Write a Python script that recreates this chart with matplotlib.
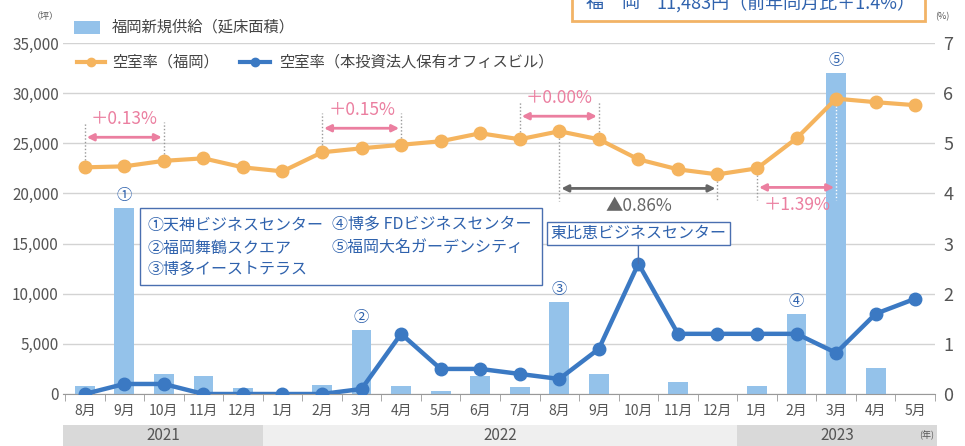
import numpy as np
import matplotlib.pyplot as plt
from matplotlib.patches import Rectangle
from matplotlib.lines import Line2D
from matplotlib.ticker import FuncFormatter
import matplotlib.transforms as mtransforms

plt.rcParams['font.family'] = ['Noto Sans CJK JP', 'DejaVu Sans']

# data
months = ['8月', '9月', '10月', '11月', '12月', '1月', '2月', '3月', '4月', '5月', '6月',
          '7月', '8月', '9月', '10月', '11月', '12月', '1月', '2月', '3月', '4月', '5月']
supply = [800, 18500, 2000, 1800, 600, 0, 900, 6400, 800, 300, 1800,
          700, 9200, 2000, 0, 1200, 0, 800, 8000, 32000, 2600, 0]
vac_fukuoka = [4.52, 4.54, 4.65, 4.70, 4.52, 4.44, 4.82, 4.90, 4.97, 5.04, 5.20,
               5.08, 5.24, 5.08, 4.68, 4.48, 4.38, 4.50, 5.10, 5.89, 5.82, 5.76]
vac_reit = [0.0, 0.2, 0.2, 0.0, 0.0, 0.0, 0.0, 0.1, 1.2, 0.5, 0.5,
            0.4, 0.3, 0.9, 2.6, 1.2, 1.2, 1.2, 1.2, 0.82, 1.6, 1.9]
years = ['2021', '2022', '2023']
year_counts = [5, 12, 5]
bar_tags = {1: '①', 7: '②', 12: '③', 18: '④', 19: '⑤'}
# (start, end, label, kind)
changes = [(0, 2, '＋0.13%', 'up'), (6, 8, '＋0.15%', 'up'), (11, 13, '＋0.00%', 'up'),
           (12, 16, '▲0.86%', 'down'), (17, 19, '＋1.39%', 'down')]
change_levels = [5.12, 5.30, 5.54, 4.10, 4.12]
buildings = ['①天神ビジネスセンター', '②福岡舞鶴スクエア', '③博多イーストテラス',
             '④博多 FDビジネスセンター', '⑤福岡大名ガーデンシティ']

BAR = '#94c2ea'
ORANGE = '#f5b45e'
BLUE = '#3b79c3'
PINK = '#eb7fa0'
TXT = '#555555'
LBLUE = '#2f62ad'

W, H = 965, 446
fx = lambda p: p / W
fy = lambda p: 1 - p / H

fig = plt.figure(figsize=(9.65, 4.46), dpi=100)
ax = fig.add_axes([fx(63), fy(394), (935 - 63) / W, (394 - 43) / H])
x = np.arange(len(months))

ax.bar(x, supply, width=0.5, color=BAR, zorder=2)
ax.set_xlim(-0.55, 21.45)
ax.set_ylim(0, 35000)
ax.set_yticks(np.arange(0, 35001, 5000))
ax.yaxis.set_major_formatter(FuncFormatter(lambda v, p: f'{int(v):,}'))
ax.grid(axis='y', color='#d3d3d3', lw=1, zorder=0)
ax.set_axisbelow(True)
for s in ['top', 'left', 'right']:
    ax.spines[s].set_visible(False)
ax.spines['bottom'].set_color('#999999')
ax.set_xticks(x)
ax.set_xticklabels(months)
ax.set_xticks(np.arange(-0.5, 22, 1), minor=True)
ax.tick_params(axis='x', which='major', length=0, pad=7, labelsize=10, labelcolor=TXT)
ax.tick_params(axis='x', which='minor', length=5, color='#999999')
ax.tick_params(axis='y', length=0, labelsize=11, labelcolor=TXT, pad=3)

for i, t in bar_tags.items():
    ax.annotate(t, (i, supply[i]), xytext=(0, 3), textcoords='offset points',
                ha='center', va='bottom', fontsize=11, color=LBLUE)

ax2 = ax.twinx()
ax2.set_ylim(0, 7)
ax2.set_yticks(range(8))
for s in ax2.spines.values():
    s.set_visible(False)
ax2.tick_params(axis='y', length=0, labelsize=13, labelcolor=TXT, pad=6)

# change annotations
for (a, b, lab, kind), lv in zip(changes, change_levels):
    col = PINK if lab.startswith('＋') else '#666666'
    for i in (a, b):
        end = lv + 0.3 if kind == 'up' else lv - 0.25
        lc = 'white' if supply[i] > 20000 else '#999999'
        ax2.plot([i, i], [vac_fukuoka[i], end], ls=(0, (1, 1.5)), lw=1, color=lc, zorder=3)
    ax2.annotate('', xy=(a + 0.05, lv), xytext=(b - 0.05, lv),
                 arrowprops=dict(arrowstyle='<|-|>', color=col, lw=2, mutation_scale=10,
                                 shrinkA=0, shrinkB=0), zorder=4)
    ty = lv + 0.36 if kind == 'up' else lv - 0.36
    ax2.text((a + b) / 2, ty, lab, ha='center', va='center', fontsize=12.5, color=col, zorder=4)

ax2.plot(x, vac_fukuoka, color=ORANGE, lw=3, marker='o', ms=9, zorder=5)
ax2.plot(x, vac_reit, color=BLUE, lw=3.2, marker='o', ms=9, zorder=6)

# 東比恵 callout
pk = int(np.argmax(vac_reit))
ax2.annotate('東比恵ビジネスセンター', xy=(pk, vac_reit[pk]), xytext=(pk, 3.2),
             ha='center', va='center', fontsize=11.5, color=LBLUE,
             bbox=dict(boxstyle='square,pad=0.2', fc='white', ec='#4a6fb0', lw=1),
             arrowprops=dict(arrowstyle='-', color='#4a6fb0', lw=1, shrinkA=0, shrinkB=0),
             zorder=7)

# building list box
fig.patches.append(Rectangle((fx(140), fy(285)), (542 - 140) / W, (285 - 208) / H,
                             transform=fig.transFigure, fc='white', ec='#4a6fb0', lw=1, zorder=8))
rows = [225, 248, 270]
for k, name in enumerate(buildings):
    col_x = 148 if k < 3 else 332
    fig.text(fx(col_x), fy(rows[k % 3]), name, ha='left', va='center', fontsize=11.5,
             color=LBLUE, zorder=9)

# legend
fig.patches.append(Rectangle((fx(74), fy(34)), 26 / W, 13 / H, transform=fig.transFigure,
                             fc=BAR, ec='none'))
fig.text(fx(112), fy(27), '福岡新規供給（延床面積）', ha='left', va='center', fontsize=11, color='#444444')
fig.lines.append(Line2D([fx(77), fx(91), fx(105)], [fy(62)] * 3, transform=fig.transFigure,
                        color=ORANGE, lw=3, marker='o', ms=6, markevery=[1]))
fig.text(fx(112), fy(62), '空室率（福岡）', ha='left', va='center', fontsize=11, color='#444444')
fig.lines.append(Line2D([fx(240), fx(255), fx(270)], [fy(62)] * 3, transform=fig.transFigure,
                        color=BLUE, lw=3, marker='o', ms=6, markevery=[1]))
fig.text(fx(279), fy(62), '空室率（本投資法人保有オフィスビル）', ha='left', va='center',
         fontsize=11, color='#444444')

# units
fig.text(fx(45), fy(17), '（坪）', ha='center', va='center', fontsize=6.5, color=TXT)
fig.text(fx(942), fy(17), '(%)', ha='center', va='center', fontsize=6.5, color=TXT)

# top-right rent box (cut off at the top, as in the source)
fig.patches.append(Rectangle((fx(572), fy(21)), (925 - 572) / W, 40 / H,
                             transform=fig.transFigure, fc='white', ec='#f2b366', lw=2))
fig.text(fx(586), fy(3), '福　岡', ha='left', va='center', fontsize=13, color=LBLUE)
fig.text(fx(915), fy(3), '11,483円（前年同月比＋1.4%）', ha='right', va='center',
         fontsize=13, color=LBLUE)

# year bands
trans = mtransforms.blended_transform_factory(ax.transData, ax.transAxes)
start = -0.55
bounds = np.cumsum(year_counts) - 0.5
for k, (yr, end) in enumerate(zip(years, bounds)):
    if k == len(years) - 1:
        end = 21.55
    fc = '#d9d9d9' if k != 1 else '#efefef'
    ax.add_patch(Rectangle((start, -0.148), end - start, 0.06, transform=trans,
                           fc=fc, ec='none', clip_on=False))
    ax.text((start + end) / 2, -0.118, yr, transform=trans, ha='center', va='center',
            fontsize=11, color=TXT)
    start = end
ax.text(21.3, -0.118, '(年)', transform=trans, ha='center', va='center', fontsize=6.5, color=TXT)

fig.savefig('out.png', dpi=100)
